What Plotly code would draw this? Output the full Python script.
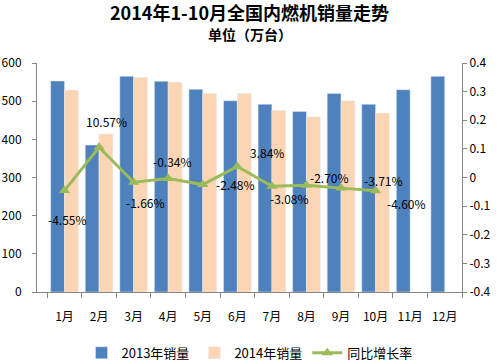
import plotly.graph_objects as go

months = ["1月", "2月", "3月", "4月", "5月", "6月", "7月", "8月", "9月", "10月", "11月", "12月"]
sales_2013 = [553, 385, 565, 552, 531, 501, 492, 473, 520, 492, 530, 565]
sales_2014 = [529, 414, 562, 550, 520, 520, 476, 459, 501, 469]
growth = [-0.0455, 0.1057, -0.0166, -0.0034, -0.0248, 0.0384, -0.0308, -0.0270, -0.0371, -0.0460]
growth_labels = ["-4.55%", "10.57%", "-1.66%", "-0.34%", "-2.48%", "3.84%", "-3.08%", "-2.70%", "-3.71%", "-4.60%"]
label_shifts = [(3, -29), (7, 26), (12, -20), (4, 17), (33, 0), (30, 14), (18, -12), (23, 8), (42, 8), (31, -13)]
left_ticks = [0, 100, 200, 300, 400, 500, 600]
right_ticks = [-0.4, -0.3, -0.2, -0.1, 0, 0.1, 0.2, 0.3, 0.4]
right_tick_text = ["-0.4", "-0.3", "-0.2", "-0.1", "0", "0.1", "0.2", "0.3", "0.4"]

FONT = "Noto Sans CJK SC"
PLOT_TOP, PLOT_H = 63, 229

fig = go.Figure()
fig.add_trace(go.Bar(x=months, y=sales_2013, name="2013年销量", marker_color="#4F81BD"))
fig.add_trace(go.Bar(x=months[:len(sales_2014)], y=sales_2014, name="2014年销量", marker_color="#FCD5B5"))
fig.add_trace(go.Scatter(x=months[:len(growth)], y=growth, name="同比增长率", yaxis="y2",
                         mode="lines+markers",
                         line=dict(color="#9BBB59", width=3),
                         marker=dict(symbol="triangle-up", size=10, color="#9BBB59")))

for m, g, t, (dx, dy) in zip(months, growth, growth_labels, label_shifts):
    fig.add_annotation(x=m, y=g, yref="y2", text=t, showarrow=False,
                       xshift=dx, yshift=dy, font=dict(family=FONT, size=12, color="#000000"))

fig.add_annotation(xref="paper", yref="paper", x=0.5, y=1 + (PLOT_TOP - 12) / PLOT_H,
                   text="<b>2014年1-10月全国内燃机销量走势</b>",
                   showarrow=False, yanchor="middle", font=dict(family=FONT, size=18, color="#000000"))
fig.add_annotation(xref="paper", yref="paper", x=0.5, y=1 + (PLOT_TOP - 34) / PLOT_H,
                   text="<b>单位（万台）</b>",
                   showarrow=False, yanchor="middle", font=dict(family=FONT, size=14, color="#000000"))

fig.update_layout(
    width=500, height=364,
    margin=dict(l=37, r=38, t=PLOT_TOP, b=364 - PLOT_TOP - PLOT_H, autoexpand=False),
    paper_bgcolor="white", plot_bgcolor="white",
    barmode="group", bargap=0.2, bargroupgap=0,
    font=dict(family=FONT, size=12, color="#000000"),
    showlegend=True,
    legend=dict(orientation="h", x=0.5, xanchor="center", y=-0.2, yanchor="top",
                font=dict(family=FONT, size=13), itemwidth=30, tracegroupgap=0),
    xaxis=dict(type="category", showline=True, linecolor="#868686", ticks="outside",
               tickson="boundaries", ticklen=5, tickcolor="#868686", showgrid=False,
               tickangle=0, automargin=False, tickfont=dict(size=12), ticklabelstandoff=14),
    yaxis=dict(range=[0, 600], tickvals=left_ticks, showline=True, linecolor="#868686",
               ticks="outside", ticklen=4, tickcolor="#868686", showgrid=False, zeroline=False,
               automargin=False, tickfont=dict(size=12), ticklabelstandoff=8),
    yaxis2=dict(range=[-0.4, 0.4], overlaying="y", side="right", tickvals=right_ticks,
                ticktext=right_tick_text, showline=True, linecolor="#868686", ticks="outside",
                ticklen=4, tickcolor="#868686", showgrid=False, zeroline=False,
                automargin=False, tickfont=dict(size=12)),
)

fig.write_html("out.html", config={"displayModeBar": False},
               post_script="document.body.style.margin='0';")
